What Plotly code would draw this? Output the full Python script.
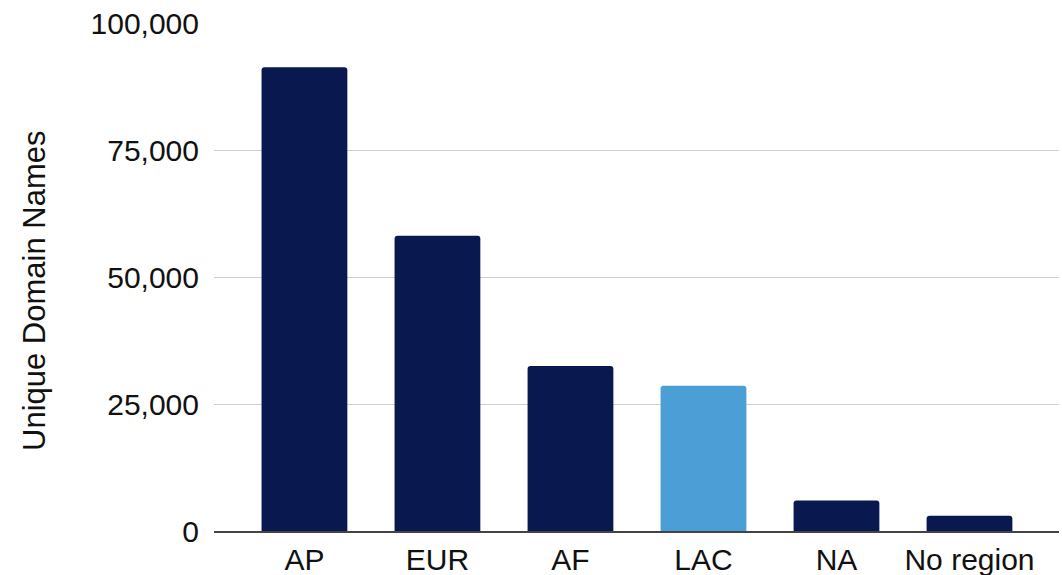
import plotly.graph_objects as go

# Unique domain names by region
regions = ["AP", "EUR", "AF", "LAC", "NA", "No region"]
unique_domains = [91300, 58100, 32500, 28600, 6000, 3000]
bar_colors = ["#0a1850", "#0a1850", "#0a1850", "#4c9fd6", "#0a1850", "#0a1850"]

y_ticks = [0, 25000, 50000, 75000, 100000]
y_tick_text = ["0", "25,000", "50,000", "75,000", "100,000"]
y_title = "Unique Domain Names"

font_family = "Liberation Sans, Arial, sans-serif"

# plot-area geometry in pixels
W, H = 1062, 575
ML, MR, MT, MB = 214, 3, 23, 44
plot_w = W - ML - MR
plot_h = H - MT - MB

fig = go.Figure(
    go.Bar(
        x=regions,
        y=unique_domains,
        marker=dict(color=bar_colors, line=dict(width=0), cornerradius=3),
        width=0.645,
    )
)

fig.update_layout(
    width=W,
    height=H,
    margin=dict(l=ML, r=MR, t=MT, b=MB),
    paper_bgcolor="white",
    plot_bgcolor="white",
    showlegend=False,
    font=dict(family=font_family, size=30, color="#111111"),
)

fig.update_xaxes(
    range=[-0.68, 5.673],
    showgrid=False,
    showline=True,
    linecolor="#444444",
    linewidth=1.5,
    ticks="",
    ticklabelstandoff=1,
    tickfont=dict(size=30, color="#111111"),
    automargin=False,
)

fig.update_yaxes(
    range=[0, 100000],
    tickvals=y_ticks,
    ticktext=y_tick_text,
    showgrid=True,
    gridcolor="#cfcfcf",
    gridwidth=1.2,
    zeroline=False,
    showline=False,
    ticks="",
    ticklabelstandoff=14,
    tickfont=dict(size=30, color="#111111"),
    automargin=False,
)

# vertical axis title, centred slightly below the plot-area middle
fig.add_annotation(
    text=y_title,
    textangle=-90,
    xref="paper",
    yref="paper",
    x=(34 - ML) / plot_w,
    y=(H - MB - 291) / plot_h,
    xanchor="center",
    yanchor="middle",
    showarrow=False,
    font=dict(size=31, color="#111111"),
)

fig.write_html("out.html")
